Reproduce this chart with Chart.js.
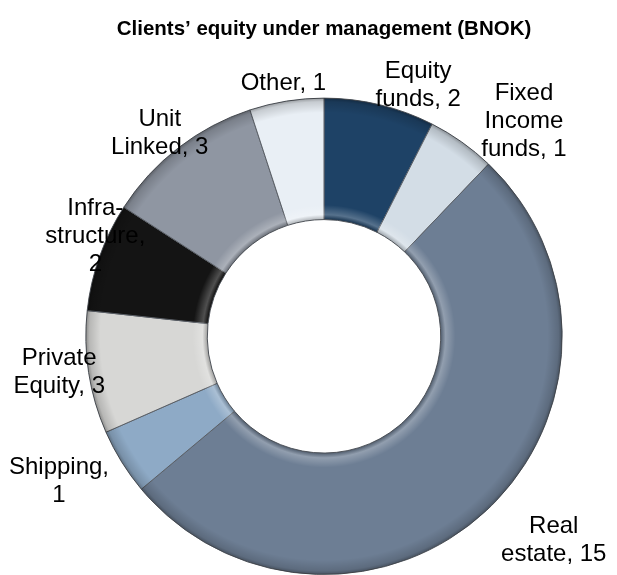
<!DOCTYPE html>
<html>
<head>
<meta charset="utf-8">
<script src="https://cdn.jsdelivr.net/npm/chart.js@4.4.1/dist/chart.umd.min.js"></script>
<style>
  html, body { margin: 0; padding: 0; background: #fff; }
  #wrap { width: 617px; height: 575px; }
</style>
</head>
<body>
<div id="wrap"><canvas id="myChart" width="617" height="575"></canvas></div>
<script>
// data (BNOK), clockwise from 12 o'clock
var categories = ['Equity funds', 'Fixed Income funds', 'Real estate', 'Shipping', 'Private Equity', 'Infrastructure', 'Unit Linked', 'Other'];
var values = [2.1, 1.3, 14.5, 1.26, 2.33, 2.07, 3.04, 1.41];
var labelLines = [
    ['Equity', 'funds, 2'],
    ['Fixed', 'Income', 'funds, 1'],
    ['Real', 'estate, 15'],
    ['Shipping,', '1'],
    ['Private', 'Equity, 3'],
    ['Infra-', 'structure,', '2'],
    ['Unit', 'Linked, 3'],
    ['Other, 1']
];
var colors = ['#1e4266', '#d3dde6', '#6d7e94', '#8eaac6', '#d7d7d5', '#141414', '#8f96a2', '#e9eff5'];

// where each label sits: angle (deg, clockwise from top) and distance / outer radius
var labelPlace = [[20.3, 1.14], [42.4, 1.245], [131.1, 1.28], [242, 1.26], [263, 1.12], [294.5, 1.055], [321.6, 1.11], [351, 1.09]];

var outsideLabels = {
    id: 'outsideLabels',
    afterDraw: function(chart) {
        var ctx = chart.ctx;
        var arc = chart.getDatasetMeta(0).data[0];
        var cx = arc.x, cy = arc.y, r = arc.outerRadius;
        ctx.save();
        ctx.font = '24px "Liberation Sans", Arial, sans-serif';
        ctx.fillStyle = '#000';
        ctx.textAlign = 'center';
        ctx.textBaseline = 'middle';
        labelLines.forEach(function(lines, i) {
            var a = labelPlace[i][0] * Math.PI / 180;
            var d = labelPlace[i][1] * r;
            var x = cx + d * Math.sin(a);
            var y = cy - d * Math.cos(a) + 4;
            var lh = 28;
            var y0 = y - (lines.length - 1) * lh / 2;
            lines.forEach(function(t, j) {
                ctx.fillText(t, x, y0 + j * lh);
            });
        });
        ctx.restore();
    }
};

// soft bevel look on the ring
var ringShade = {
    id: 'ringShade',
    afterDatasetsDraw: function(chart) {
        var ctx = chart.ctx;
        var arc = chart.getDatasetMeta(0).data[0];
        var ri = arc.innerRadius, ro = arc.outerRadius;
        var g = ctx.createRadialGradient(arc.x, arc.y, ri, arc.x, arc.y, ro);
        g.addColorStop(0, 'rgba(0,0,0,0.25)');
        g.addColorStop(0.04, 'rgba(255,255,255,0.25)');
        g.addColorStop(0.12, 'rgba(255,255,255,0)');
        g.addColorStop(0.88, 'rgba(0,0,0,0)');
        g.addColorStop(0.97, 'rgba(0,0,0,0.15)');
        g.addColorStop(1, 'rgba(0,0,0,0.35)');
        ctx.save();
        ctx.beginPath();
        ctx.arc(arc.x, arc.y, ro, 0, Math.PI * 2);
        ctx.arc(arc.x, arc.y, ri, 0, Math.PI * 2, true);
        ctx.fillStyle = g;
        ctx.fill();
        ctx.restore();
    }
};

var ctx = document.getElementById('myChart').getContext('2d');
var chart = new Chart(ctx, {
    type: 'doughnut',
    data: {
        labels: categories,
        datasets: [{
            data: values,
            backgroundColor: colors,
            borderColor: '#5a5f66',
            borderWidth: 1
        }]
    },
    options: {
        responsive: false,
        animation: false,
        cutout: '49%',
        layout: { padding: { left: 31, right: 0, top: 0, bottom: -5 } },
        plugins: {
            legend: { display: false },
            tooltip: { enabled: false },
            title: {
                display: true,
                text: 'Clients\u2019 equity under management (BNOK)',
                color: '#000',
                font: { family: '"Liberation Sans", Arial, sans-serif', size: 20.5, weight: 'bold' },
                padding: { top: 17, bottom: 56 }
            }
        }
    },
    plugins: [ringShade, outsideLabels]
});
</script>
</body>
</html>
